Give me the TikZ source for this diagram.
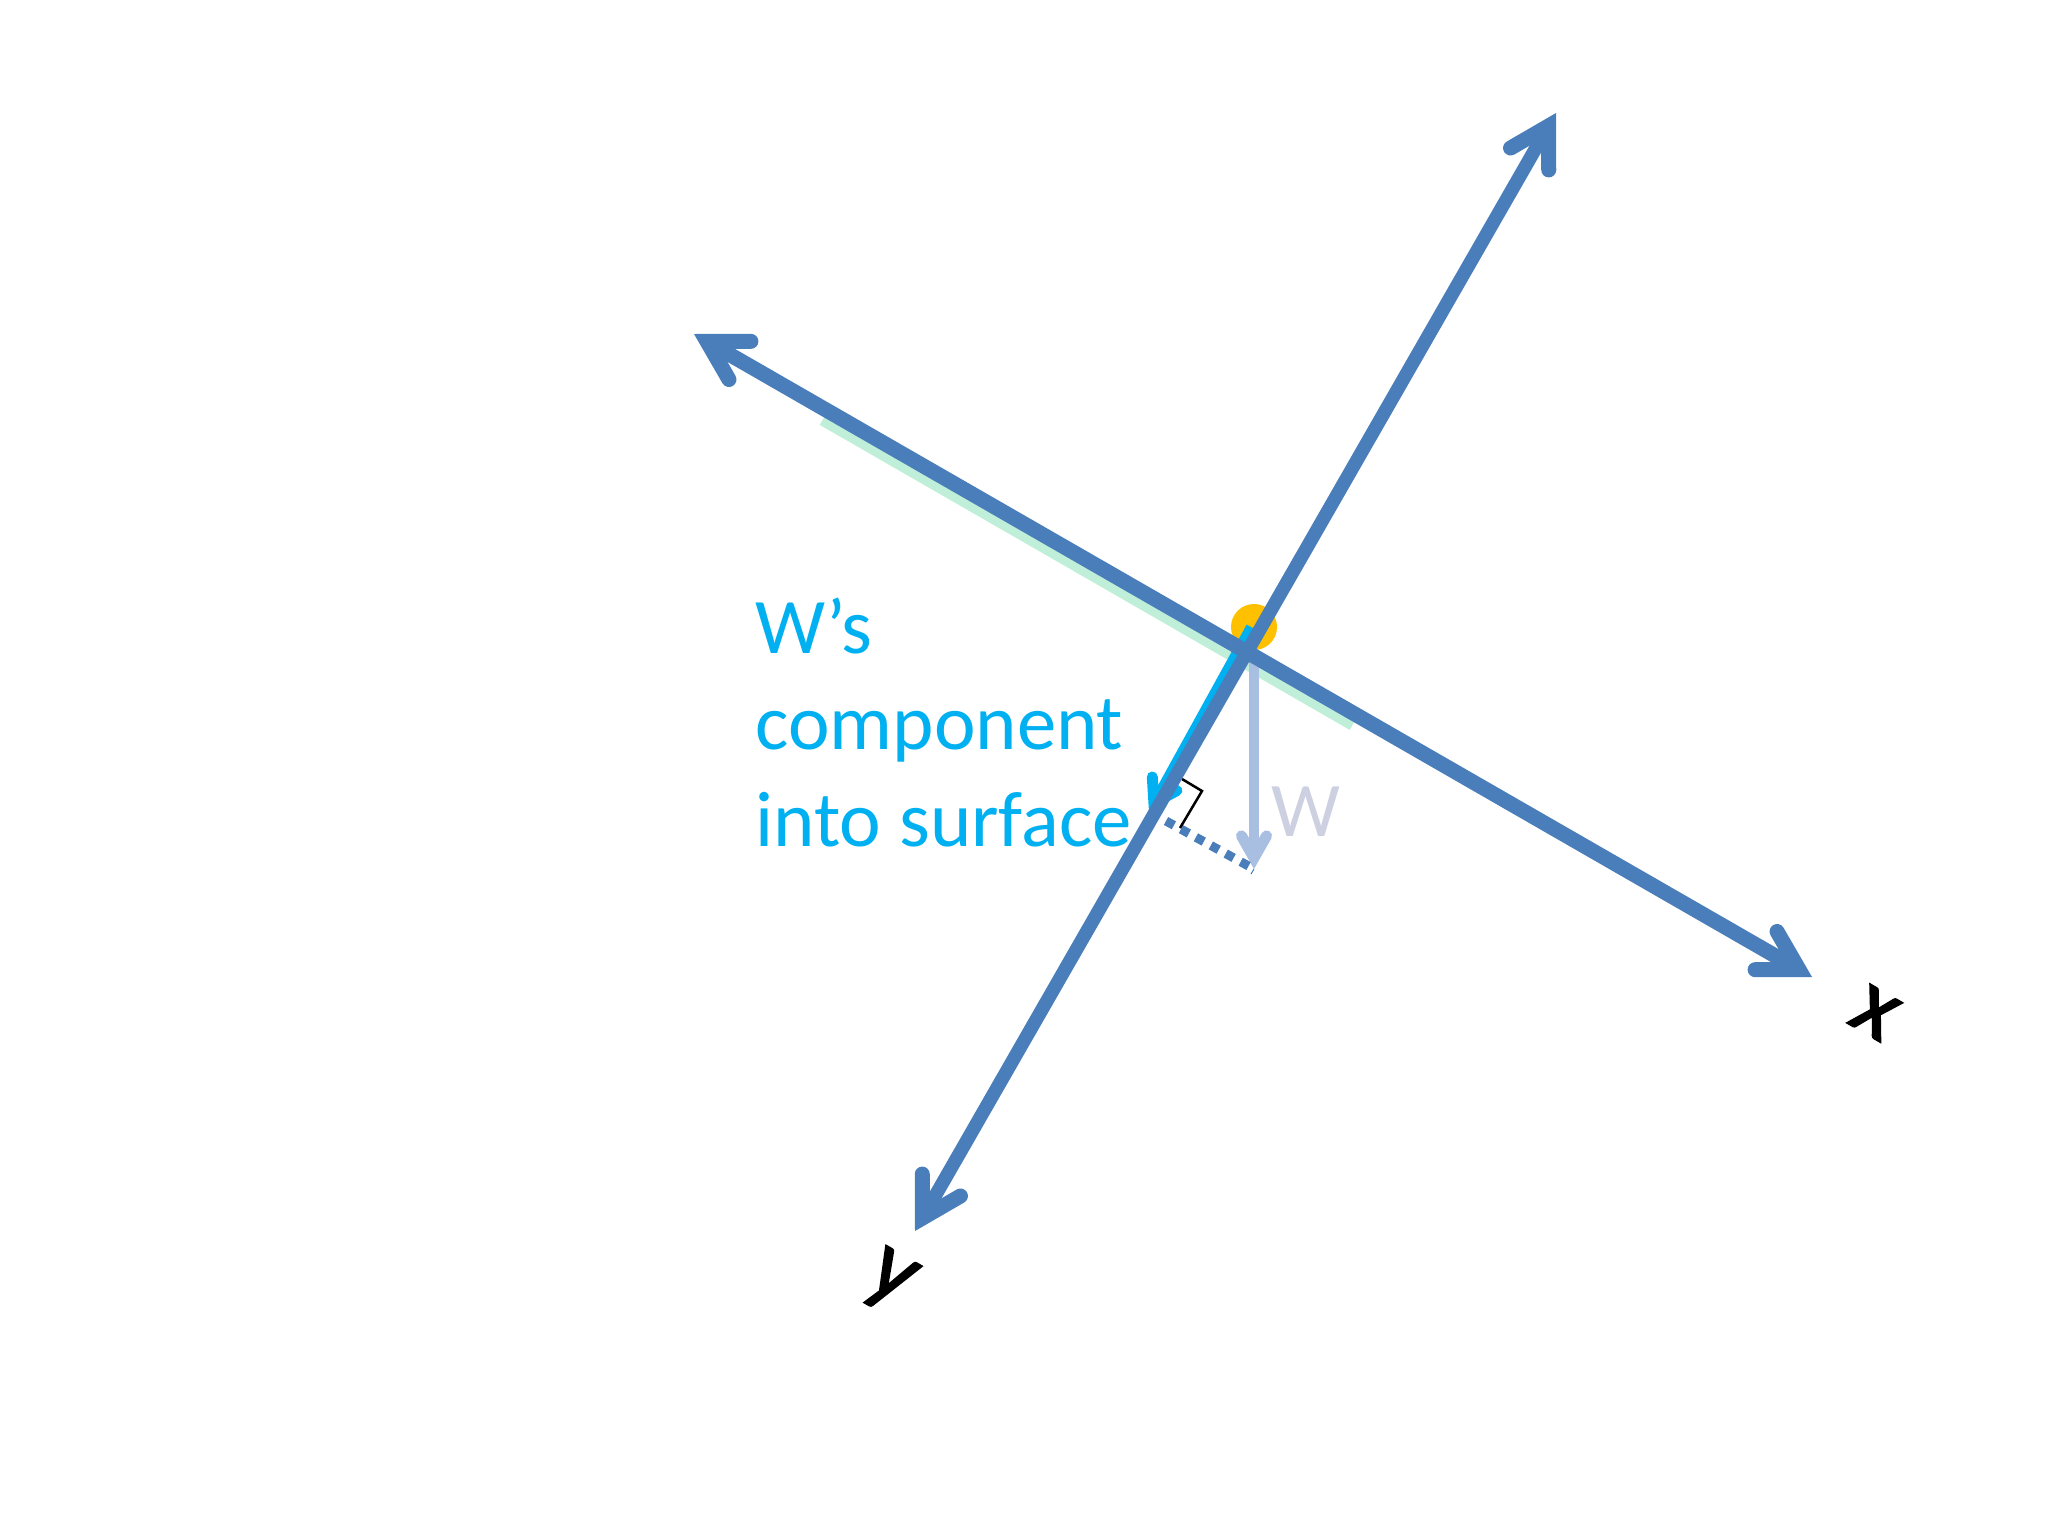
\documentclass[tikz,border=0pt]{standalone}
\usepackage{fontspec}
\setmainfont{Carlito}
\newfontfamily\labelfont[FakeBold=1.6]{Carlito}
\usepackage{xcolor}
\usetikzlibrary{arrows.meta, positioning}
\definecolor{axisblue}{HTML}{4A7EBB}
\definecolor{surfgreen}{HTML}{BFEFD9}
\definecolor{weightblue}{HTML}{A9BFE2}
\definecolor{compcyan}{HTML}{00B0F0}
\definecolor{pointgold}{HTML}{FFC000}
\definecolor{weightgrey}{HTML}{CCD0E0}

\begin{document}
\begin{tikzpicture}[x=0.01cm, y=-0.01cm]
      \tikzset{
        axisarrow/.style={draw=axisblue, line width=0.15cm, {Straight Barb[length=0.38cm, width=0.44cm, line width=0.15cm, line cap=round]}-{Straight Barb[length=0.38cm, width=0.44cm, line width=0.15cm, line cap=round]}},
        compo/.style={draw=compcyan, line width=0.1cm, -{Straight Barb[length=0.22cm, width=0.28cm, line width=0.11cm, line cap=round]}},
        weight/.style={draw=weightblue, line width=0.1cm, -{Straight Barb[length=0.22cm, width=0.25cm, line width=0.11cm, line cap=round]}},
        axislabel/.style={font=\labelfont\fontsize{27}{32}\selectfont, rotate=-30, inner sep=0pt}
      }
      \useasboundingbox (0,0) rectangle (2048,1536);

      \coordinate (xstart) at (694,334);
      \coordinate (xend) at (1812,977);
      \coordinate (ystart) at (1556,113);
      \coordinate (yend) at (915,1231);
      \coordinate (surfA) at (822,421);
      \coordinate (surfB) at (1352,726);
      \coordinate (weightTop) at (1254,660);
      \coordinate (weightTip) at (1254,869);
      \coordinate (compTop) at (1251,627);
      \coordinate (compTip) at (1149,812);
      \coordinate (dotA) at (1166,821);
      \coordinate (tickEnd) at (1251,874);
      \coordinate (markA) at (1182,779);
      \coordinate (markB) at (1202,791);
      \coordinate (markC) at (1180,828);

      \node[circle, fill=pointgold, minimum size=0.46cm, inner sep=0pt] (point) at (1254,627) {};
      \draw[surfgreen, line width=0.09cm] (surfA) -- (surfB);
      \draw[weight] (weightTop) -- (weightTip);
      \draw[compo] (compTop) -- (compTip);
      \draw[axisblue, line width=0.09cm, dash pattern=on 0.09cm off 0.08cm] (dotA) -- (weightTip);
      \draw[axisblue, line width=0.01cm] (weightTip) -- (tickEnd);
      \draw[black, line width=0.025cm] (markA) -- (markB) -- (markC);
      \draw[axisarrow, line width=0.135cm] (ystart) -- (yend);
      \draw[axisarrow] (xstart) -- (xend);

      \node[font=\fontsize{22.4}{27.5}\selectfont, text=compcyan, align=left, anchor=north west, inner sep=0pt] (complabel) at (755,597) {W’s\\component\\into surface};
      \node[font=\fontsize{22}{26}\selectfont, text=weightgrey, inner sep=0pt] (wlabel) at (1306,812) {W};
      \node[axislabel] (xlabel) at (1875,1013) {x};
      \node[axislabel] (ylabel) at (889,1282) {y};
    \end{tikzpicture}
\end{document}
